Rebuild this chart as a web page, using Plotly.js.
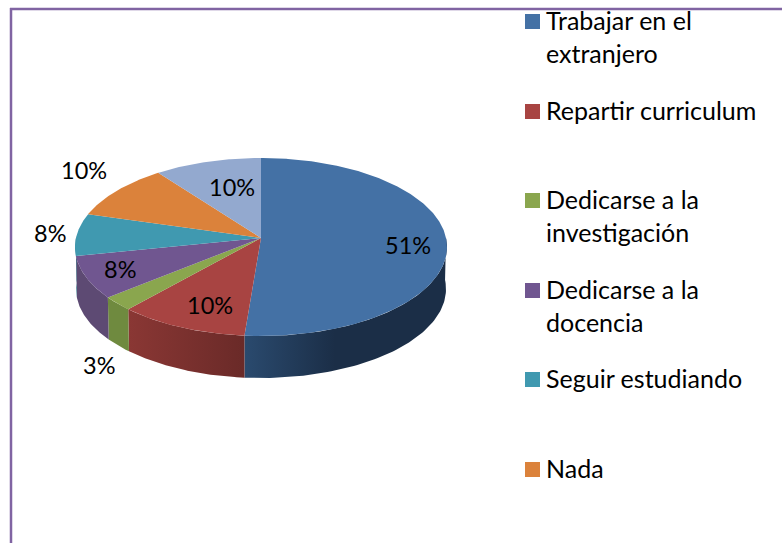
<!DOCTYPE html>
<html><head><meta charset="utf-8">
<script src="https://cdn.plot.ly/plotly-3.0.1.min.js"></script>
<style>html,body{margin:0;padding:0;background:#fff;overflow:hidden}#c{width:782px;height:543px}</style>
</head><body><div id="c"></div>
<script>
const categories = ["Trabajar en el extranjero","Repartir curriculum","Dedicarse a la investigación","Dedicarse a la docencia","Seguir estudiando","Nada","Otros"];
const values = [20,4,1,3,3,4,4];
const topColors = ["#4471a5","#a84442","#8aa64e","#705690","#4099b0","#db823b","#93a9cf"];
const wallLeft = ["#2a4a6e","#8a3734","#6f8a3f","#5d4a73","#34808f","#b86c30","#7a8cab"];
const wallRight = ["#1b2e47","#6a2a28","#6f8a3f","#5d4a73","#34808f","#b86c30","#7a8cab"];
const legendLines = [["Trabajar en el","extranjero"],["Repartir curriculum"],["Dedicarse a la","investigación"],["Dedicarse a la","docencia"],["Seguir estudiando"],["Nada"]];
const legendY = [21.5,111.5,200.5,290.5,379.5,469.5];
const labelX = [408,210,99,120,50,84,232];
const labelY = [246,306,366,270,234,171,188];

const G = {cx:261, cy:247, rx:186, ry:89, depth:42, e:0.101, brx:185};
const total = values.reduce((a,b)=>a+b,0);
function proj(t, rx, cy){
  const c=Math.cos(t), s=Math.sin(t), d=1+G.e*c;
  return [G.cx + rx*Math.sqrt(1-G.e*G.e)*s/d, cy - G.ry*(c+G.e)/d];
}
const traces=[]; const bounds=[]; let acc=0;
values.forEach(v=>{bounds.push([acc/total*2*Math.PI,(acc+v)/total*2*Math.PI]);acc+=v;});
bounds.forEach((b,i)=>{
  const x=[],y=[],n=80; let lo=1e9,hi=-1e9;
  const a0=Math.max(b[0],Math.PI/2), a1=Math.min(b[1],Math.PI*1.5);
  if(a1<=a0) return;
  for(let k=0;k<=n;k++){const t=a0+(a1-a0)*k/n,p=proj(t,G.rx,G.cy);x.push(p[0]);y.push(p[1]);lo=Math.min(lo,p[0]);hi=Math.max(hi,p[0]);}
  for(let k=n;k>=0;k--){const t=a0+(a1-a0)*k/n,p=proj(t,G.brx,G.cy+G.depth);x.push(p[0]);y.push(p[1]);}
  traces.push({type:'scatter',mode:'lines',x,y,fill:'toself',line:{width:0,color:'rgba(0,0,0,0)'},hoverinfo:'skip',showlegend:false,
    fillcolor:wallRight[i],
    fillgradient:{type:'horizontal',start:i===0?245:lo,stop:i===0?335:hi,colorscale:[[0,wallLeft[i]],[1,wallRight[i]]]}});
});
bounds.forEach((b,i)=>{
  const apex=[G.cx,G.cy-G.ry*G.e];
  const x=[apex[0]],y=[apex[1]],n=Math.max(8,Math.round(values[i]*16));
  for(let k=0;k<=n;k++){const p=proj(b[0]+(b[1]-b[0])*k/n,G.rx,G.cy);x.push(p[0]);y.push(p[1]);}
  x.push(apex[0]);y.push(apex[1]);
  traces.push({type:'scatter',mode:'lines',x,y,fill:'toself',fillcolor:topColors[i],line:{width:0,color:topColors[i]},name:categories[i],showlegend:false,hoverinfo:'name'});
});
traces.push({type:'scatter',mode:'markers',x:legendY.map(()=>532.5),y:legendY,marker:{symbol:'square',size:15,color:topColors.slice(0,6),line:{width:0}},showlegend:false,hoverinfo:'skip'});

const pctFont={family:'Lato, Carlito, Calibri, sans-serif',size:23.5,color:'#000'};
const legFont={family:'Lato, Carlito, Calibri, sans-serif',size:25,color:'#000'};
const annotations=[];
values.forEach((v,i)=>annotations.push({x:labelX[i],y:labelY[i]-1.5,xref:'x',yref:'y',text:Math.round(v/total*100)+'%',showarrow:false,font:pctFont,xanchor:'center',yanchor:'middle'}));
legendLines.forEach((ls,i)=>ls.forEach((t,j)=>annotations.push({x:546,y:legendY[i]+j*33-2,xref:'x',yref:'y',text:t,showarrow:false,font:legFont,xanchor:'left',yanchor:'middle',xshift:-2})));
const shapes=[
 {type:'line',xref:'x',yref:'y',x0:11,x1:11,y0:8,y1:543,line:{color:'#8064a2',width:2.5}},
 {type:'line',xref:'x',yref:'y',x0:10,x1:782,y0:9,y1:9,line:{color:'#8064a2',width:2.5}}
];
Plotly.newPlot('c',traces,{width:782,height:543,margin:{l:0,r:0,t:0,b:0},paper_bgcolor:'#fff',plot_bgcolor:'#fff',showlegend:false,
 xaxis:{range:[0,782],visible:false,fixedrange:true},yaxis:{range:[543,0],visible:false,fixedrange:true},annotations,shapes},{staticPlot:true});
</script></body></html>
